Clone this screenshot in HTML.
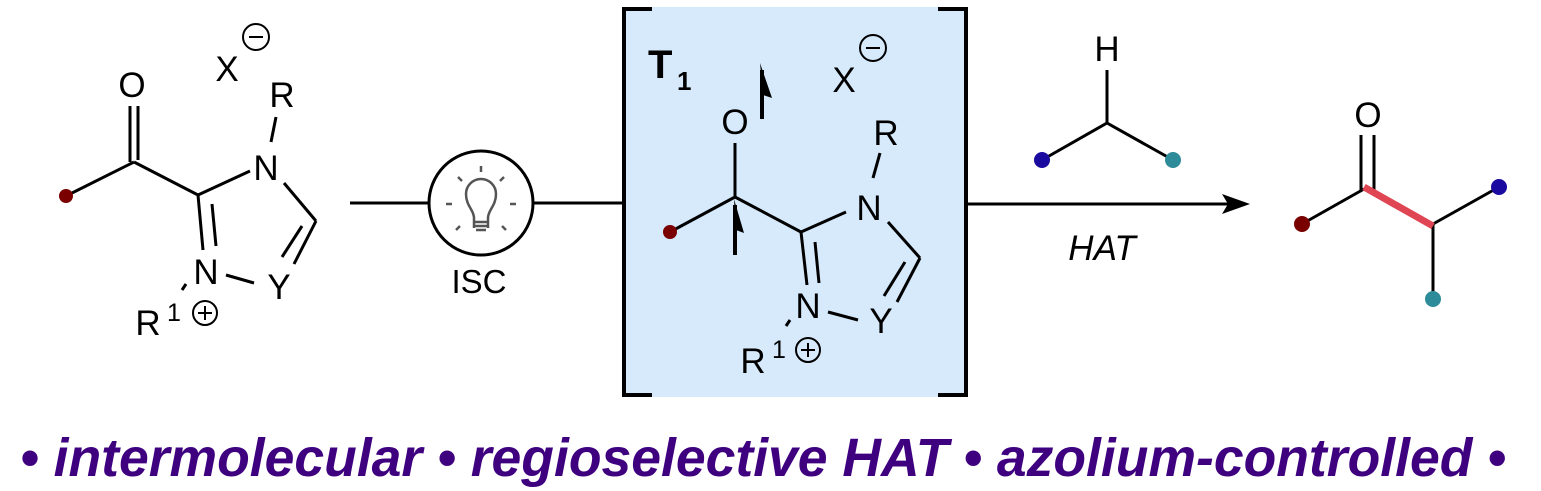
<!DOCTYPE html>
<html><head><meta charset="utf-8"><style>
html,body{margin:0;padding:0;background:#fff;}
svg{display:block;}
text{font-family:"Liberation Sans",sans-serif;fill:#000;}
</style></head><body>
<svg width="1541" height="491" viewBox="0 0 1541 491" xmlns="http://www.w3.org/2000/svg">
<g stroke="#000" stroke-width="3" fill="none" stroke-linecap="butt">
<line x1="66" y1="196" x2="134" y2="162"/>
<line x1="130" y1="106" x2="130" y2="162"/>
<line x1="138" y1="106" x2="138" y2="160"/>
<line x1="134" y1="162" x2="198" y2="195"/>
<line x1="198" y1="195" x2="250" y2="171"/>
<line x1="276" y1="117" x2="271" y2="142"/>
<line x1="284" y1="183" x2="316" y2="221"/>
<line x1="316" y1="221" x2="294" y2="264"/>
<line x1="302" y1="226" x2="282" y2="257"/>
<line x1="198" y1="195" x2="203" y2="250"/>
<line x1="212" y1="204" x2="216" y2="246"/>
<line x1="226" y1="275" x2="254" y2="283"/>
<line x1="186" y1="284" x2="182" y2="290"/>
<circle cx="205" cy="313" r="12" stroke-width="2"/>
<line x1="198" y1="313" x2="212" y2="313" stroke-width="2"/>
<line x1="205" y1="306" x2="205" y2="320" stroke-width="2"/>
<circle cx="256" cy="37" r="13" stroke-width="2"/>
<line x1="249" y1="37" x2="263" y2="37" stroke-width="2"/>
<line x1="350" y1="203" x2="429" y2="203"/>
<circle cx="481" cy="203" r="52"/>
<line x1="533" y1="203" x2="622" y2="203"/>
</g>
<g stroke="#555" stroke-width="2.5" fill="none">
<path d="M474 228 L474 218 C474 210 466 206 466 194 A15 15 0 1 1 496 194 C496 206 488 210 488 218 L488 228"/>
<line x1="474" y1="222" x2="488" y2="222"/>
<line x1="474" y1="226" x2="488" y2="226"/>
<line x1="476" y1="230" x2="486" y2="230"/>
<line x1="481" y1="166" x2="481" y2="172"/>
<line x1="458" y1="177" x2="462" y2="181"/>
<line x1="504" y1="177" x2="500" y2="181"/>
<line x1="446" y1="204" x2="452" y2="204"/>
<line x1="510" y1="204" x2="516" y2="204"/>
<line x1="456" y1="230" x2="460" y2="226"/>
<line x1="506" y1="230" x2="502" y2="226"/>
</g>
<circle cx="66" cy="196" r="7" fill="#7a0000"/>
<text x="132" y="97" font-size="35" text-anchor="middle">O</text>
<text x="227" y="81" font-size="35" text-anchor="middle">X</text>
<text x="282" y="107" font-size="35" text-anchor="middle">R</text>
<text x="266" y="180" font-size="35" text-anchor="middle">N</text>
<text x="206" y="284" font-size="35" text-anchor="middle">N</text>
<text x="279" y="299" font-size="35" text-anchor="middle">Y</text>
<text x="148" y="335" font-size="35" text-anchor="middle">R</text>
<text x="174" y="321" font-size="25" text-anchor="middle">1</text>
<text x="479" y="293" font-size="33" text-anchor="middle">ISC</text>

<rect x="622" y="7" width="346" height="390" fill="#d6eafc"/>
<g stroke="#000" stroke-width="4" fill="none">
<polyline points="652,9 624,9 624,395 652,395"/>
<polyline points="938,9 966,9 966,395 938,395"/>
</g>
<g stroke="#000" stroke-width="3" fill="none">
<line x1="966" y1="204" x2="1236" y2="204"/>
<line x1="735" y1="143" x2="735" y2="197"/>
<line x1="670" y1="232" x2="735" y2="197"/>
<line x1="735" y1="197" x2="801" y2="232"/>
<line x1="801" y1="232" x2="846" y2="212"/>
<line x1="880" y1="153" x2="873" y2="178"/>
<line x1="888" y1="222" x2="920" y2="258"/>
<line x1="920" y1="258" x2="897" y2="302"/>
<line x1="905" y1="262" x2="884" y2="296"/>
<line x1="801" y1="232" x2="807" y2="285"/>
<line x1="815" y1="242" x2="819" y2="283"/>
<line x1="828" y1="312" x2="858" y2="320"/>
<line x1="790" y1="320" x2="786" y2="326"/>
<circle cx="808" cy="350" r="12" stroke-width="2"/>
<line x1="801" y1="350" x2="815" y2="350" stroke-width="2"/>
<line x1="808" y1="343" x2="808" y2="357" stroke-width="2"/>
<circle cx="873" cy="48" r="13" stroke-width="2"/>
<line x1="866" y1="48" x2="880" y2="48" stroke-width="2"/>
</g>
<path d="M1250 204 L1222 194 L1228 204 L1222 214 Z" fill="#000"/>
<line x1="762" y1="119" x2="762" y2="70" stroke="#000" stroke-width="4"/>
<path d="M760 63 L772 98 L763 95 Z" fill="#000"/>
<line x1="735" y1="255" x2="735" y2="205" stroke="#000" stroke-width="4"/>
<path d="M734 199 L744 233 L736 230 Z" fill="#000"/>
<circle cx="670" cy="232" r="7" fill="#7a0000"/>
<text x="648" y="78" font-size="40" font-weight="bold">T</text>
<text x="677" y="90" font-size="26" font-weight="bold">1</text>
<text x="735" y="134" font-size="35" text-anchor="middle">O</text>
<text x="844" y="92" font-size="35" text-anchor="middle">X</text>
<text x="886" y="145" font-size="35" text-anchor="middle">R</text>
<text x="869" y="220" font-size="35" text-anchor="middle">N</text>
<text x="808" y="318" font-size="35" text-anchor="middle">N</text>
<text x="881" y="333" font-size="35" text-anchor="middle">Y</text>
<text x="753" y="373" font-size="35" text-anchor="middle">R</text>
<text x="779" y="358" font-size="25" text-anchor="middle">1</text>

<g stroke="#000" stroke-width="3" fill="none">
<line x1="1107" y1="70" x2="1107" y2="123"/>
<line x1="1042" y1="160" x2="1107" y2="123"/>
<line x1="1107" y1="123" x2="1173" y2="160"/>
<line x1="1302" y1="224" x2="1364" y2="189"/>
<line x1="1361" y1="135" x2="1361" y2="190"/>
<line x1="1374" y1="135" x2="1374" y2="190"/>
<line x1="1433" y1="224" x2="1499" y2="187"/>
<line x1="1433" y1="224" x2="1433" y2="299"/>
</g>
<line x1="1364" y1="187" x2="1433" y2="226" stroke="#e04553" stroke-width="7"/>
<text x="1107" y="61" font-size="35" text-anchor="middle">H</text>
<text x="1368" y="127" font-size="35" text-anchor="middle">O</text>
<text x="1102" y="260" font-size="35" font-style="italic" text-anchor="middle">HAT</text>
<circle cx="1042" cy="160" r="8" fill="#1a0aa0"/>
<circle cx="1173" cy="160" r="8" fill="#2e8b99"/>
<circle cx="1302" cy="224" r="8" fill="#7a0000"/>
<circle cx="1499" cy="187" r="8" fill="#1a0aa0"/>
<circle cx="1433" cy="299" r="8" fill="#2e8b99"/>

<text x="20" y="476" font-size="54" font-weight="bold" font-style="italic" style="fill:#3f0080" textLength="1486" lengthAdjust="spacingAndGlyphs">• intermolecular • regioselective HAT • azolium-controlled •</text>
</svg>
</body></html>
